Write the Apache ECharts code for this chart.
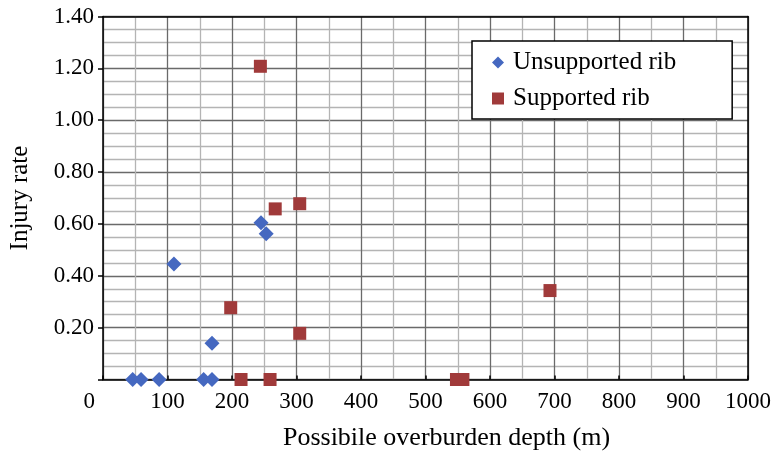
<!DOCTYPE html>
<html>
<head>
<meta charset="utf-8">
<script src="https://cdn.jsdelivr.net/npm/echarts@6/dist/echarts.min.js"></script>
<style>
  html, body { margin: 0; padding: 0; background: #fff; }
  #chart { width: 784px; height: 460px; }
</style>
</head>
<body>
<div id="chart"></div>
<script>
// Injury rate against possible overburden depth, by rib support type
const unsupportedDepth = [46, 59, 87, 156, 169, 169, 110, 245, 253];
const unsupportedRate  = [0, 0, 0, 0, 0, 0.14, 0.445, 0.605, 0.562];

const supportedDepth = [198, 214, 259, 305, 244, 267, 305, 693, 548, 558];
const supportedRate  = [0.277, 0, 0, 0.178, 1.208, 0.658, 0.678, 0.343, 0, 0];

const seriesNames = ['Unsupported rib', 'Supported rib'];
const xTitle = 'Possibile overburden depth (m)';
const yTitle = 'Injury rate';

const font = '"Liberation Serif", "Times New Roman", serif';

function pairs(xs, ys) {
  return xs.map((x, i) => [x, ys[i]]);
}

const chart = echarts.init(document.getElementById('chart'), null, { renderer: 'canvas' });

chart.setOption({
  animation: false,
  backgroundColor: '#ffffff',
  textStyle: { fontFamily: font },
  grid: { left: 103, right: 36, top: 16.5, bottom: 80.5, containLabel: false },
  legend: {
    orient: 'vertical',
    left: 472,
    top: 41,
    backgroundColor: '#ffffff',
    borderColor: '#000000',
    borderWidth: 1.5,
    padding: [9, 56, 8, 20],
    itemGap: 11,
    itemWidth: 12,
    itemHeight: 12,
    textStyle: { fontFamily: font, fontSize: 25, color: '#000', padding: [0, 0, 0, 4] },
    data: [
      { name: seriesNames[0], icon: 'diamond' },
      { name: seriesNames[1], icon: 'rect' }
    ]
  },
  xAxis: [{
    type: 'value',
    min: 0, max: 1000, interval: 100,
    name: xTitle,
    nameLocation: 'middle',
    nameGap: 46,
    nameTextStyle: { fontFamily: font, fontSize: 26, color: '#000', padding: [0, 0, 0, 42] },
    axisLine: { show: true, lineStyle: { color: '#000', width: 1.5 } },
    axisTick: { show: true, inside: true, length: 4, lineStyle: { color: '#000', width: 1.5 } },
    axisLabel: {
      fontFamily: font, fontSize: 23, color: '#000', margin: 11,
      alignMinLabel: 'right',
      formatter: v => (v === 0 ? '{z|0}' : String(v)),
      rich: { z: { fontFamily: font, fontSize: 23, color: '#000', padding: [0, 8, 0, 0] } }
    },
    splitLine: { show: true, lineStyle: { color: '#6a6a6a', width: 1.3 } },
    minorTick: { show: false, splitNumber: 2 },
    minorSplitLine: { show: true, lineStyle: { color: '#b4b4b4', width: 1.3 } }
  }, {
    type: 'value',
    position: 'top',
    min: 0, max: 1000, interval: 100,
    axisLine: { show: true, onZero: false, lineStyle: { color: '#000', width: 1.5 } },
    axisTick: { show: false },
    axisLabel: { show: false },
    splitLine: { show: false }
  }],
  yAxis: [{
    type: 'value',
    min: 0, max: 1.4, interval: 0.2,
    name: yTitle,
    nameLocation: 'middle',
    nameGap: 70,
    nameRotate: 90,
    nameTextStyle: { fontFamily: font, fontSize: 25, color: '#000' },
    axisLine: { show: true, lineStyle: { color: '#000', width: 1.5 } },
    axisTick: { show: true, inside: false, length: 5, lineStyle: { color: '#000', width: 1.5 } },
    axisLabel: {
      fontFamily: font, fontSize: 23, color: '#000', margin: 9,
      formatter: v => (v === 0 ? '' : v.toFixed(2))
    },
    splitLine: { show: true, lineStyle: { color: '#6a6a6a', width: 1.3 } },
    minorTick: { show: false, splitNumber: 4 },
    minorSplitLine: { show: true, lineStyle: { color: '#b4b4b4', width: 1.3 } }
  }, {
    type: 'value',
    position: 'right',
    min: 0, max: 1.4, interval: 0.2,
    axisLine: { show: true, onZero: false, lineStyle: { color: '#000', width: 1.5 } },
    axisTick: { show: false },
    axisLabel: { show: false },
    splitLine: { show: false }
  }],
  series: [{
    name: seriesNames[0],
    type: 'scatter',
    symbol: 'diamond',
    symbolSize: 15,
    itemStyle: { color: '#4568c0', opacity: 1 },
    data: pairs(unsupportedDepth, unsupportedRate),
    z: 5
  }, {
    name: seriesNames[1],
    type: 'scatter',
    symbol: 'rect',
    symbolSize: 13,
    itemStyle: { color: '#a03a3a', opacity: 1 },
    data: pairs(supportedDepth, supportedRate),
    z: 4
  }]
});
</script>
</body>
</html>
